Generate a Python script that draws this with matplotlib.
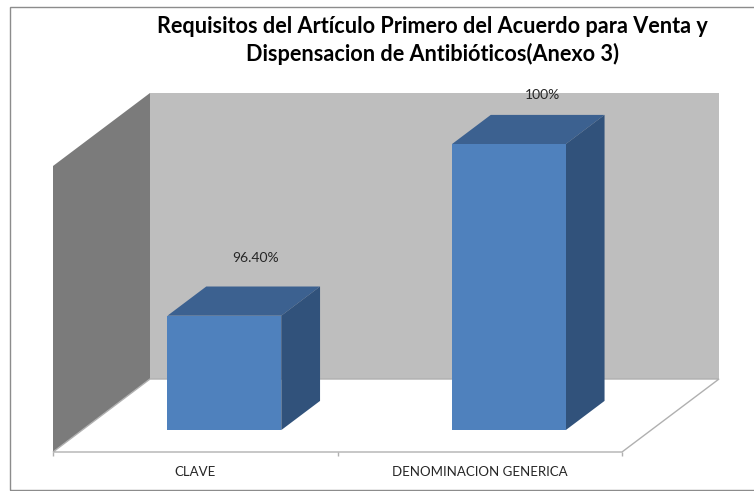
#!/usr/bin/python

# Load some packages
import matplotlib
matplotlib.use("Agg")
import matplotlib.pyplot as plt
from matplotlib.patches import Polygon, Rectangle

# Chart data
categories = ["CLAVE", "DENOMINACION GENERICA"]
values = [96.4, 100.0]
value_labels = ["96.40%", "100%"]
title = "Requisitos del Artículo Primero del Acuerdo para Venta y\nDispensacion de Antibióticos(Anexo 3)"

# Axis range of the original chart
ymin = 94.0
ymax = 100.0
xmax = len(categories)

# Look of the 3D box
W, H = 754.0, 491.0
depth_x = 97.0 / 284.5    # floor depth, in category units
depth_y = 73.0 / 47.67    # floor depth, in value units
bar_width = 0.4
bar_d0 = 0.30             # where the bars start and end in the depth
bar_d1 = 0.70
label_offsets = [(-8, 29), (-5, 20)]

plt.rcParams['font.family'] = ['Lato', 'DejaVu Sans']

fig = plt.figure(figsize=(W / 100, H / 100), dpi=100)
# Axes box is the front plane of the chart
ax = fig.add_axes([53 / W, 1 - 452 / H, 569 / W, 286 / H])
ax.set_xlim(0, xmax)
ax.set_ylim(ymin, ymax)


def proj(x, v, d):
    # oblique projection: depth moves a point right and up
    return (x + depth_x * d, v + depth_y * d)


def face(points, color, zorder, edge="none", lw=0):
    ax.add_patch(Polygon([proj(*p) for p in points], closed=True, facecolor=color,
                         edgecolor=edge, linewidth=lw, zorder=zorder, clip_on=False))


# Walls and floor
face([(0, ymin, 0), (0, ymin, 1), (0, ymax, 1), (0, ymax, 0)], "#7b7b7b", 1)
face([(0, ymin, 1), (xmax, ymin, 1), (xmax, ymax, 1), (0, ymax, 1)], "#bebebe", 1)
face([(0, ymin, 0), (xmax, ymin, 0), (xmax, ymin, 1), (0, ymin, 1)], "white", 2, "#b0b0b0", 1.0)

# Bars
for i, v in enumerate(values):
    x0 = i + 0.5 - bar_width / 2
    x1 = i + 0.5 + bar_width / 2
    face([(x0, v, bar_d0), (x1, v, bar_d0), (x1, v, bar_d1), (x0, v, bar_d1)], "#3c6190", 3)
    face([(x1, ymin, bar_d0), (x1, ymin, bar_d1), (x1, v, bar_d1), (x1, v, bar_d0)], "#31527b", 3)
    face([(x0, ymin, bar_d0), (x1, ymin, bar_d0), (x1, v, bar_d0), (x0, v, bar_d0)], "#4f81bd", 4)
    ax.annotate(value_labels[i], xy=proj(i + 0.5, v, bar_d1), xytext=label_offsets[i],
                textcoords="offset pixels", ha="center", va="center",
                fontsize=10, color="#262626", zorder=5, annotation_clip=False)

# Axes: only the category ticks are left
ax.patch.set_visible(False)
for s in ax.spines.values():
    s.set_visible(False)
ax.set_yticks([])
ax.set_xticks(range(xmax + 1))
ax.set_xticklabels([])
ax.tick_params(axis="x", which="major", length=3, width=1, color="#b0b0b0")
ax.set_xticks([i + 0.5 for i in range(xmax)], minor=True)
ax.set_xticklabels(categories, minor=True)
ax.tick_params(axis="x", which="minor", length=0, pad=10, labelsize=9.5, labelcolor="#262626")

# Outer chart frame, open on the right
fig.add_artist(Rectangle((9.5 / W, 1 - 490 / H), 760 / W, 483.5 / H, transform=fig.transFigure,
                         facecolor="none", edgecolor="#8c8c8c", linewidth=1.0, clip_on=True))

fig.text(432.5 / W, 1 - 40.5 / H, title, ha="center", va="center", fontsize=15.6,
         fontweight="bold", color="black", linespacing=1.38)

fig.savefig("out.png", dpi=100)
